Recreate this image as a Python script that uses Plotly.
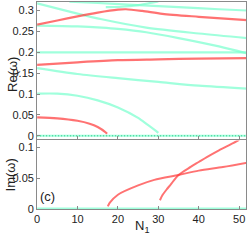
import plotly.graph_objects as go

# ---- data ----
# Re(omega) branches, top panel
cyan_zero_N = [0, 52]
cyan_zero_v = [0, 0]

cyan1_N = [0, 5, 10, 15, 20, 25, 27.4, 29, 30]
cyan1_v = [0.101, 0.101, 0.096, 0.085, 0.068, 0.043, 0.026, 0.015, 0.007]

cyan2_N = [0, 10, 20, 30, 40, 52]
cyan2_v = [0.162, 0.148, 0.138, 0.129, 0.120, 0.113]

cyan3_N = [0, 52]
cyan3_v = [0.2, 0.2]

cyanA_N = [0, 9, 16, 27, 40, 52]
cyanA_v = [0.317, 0.295, 0.279, 0.259, 0.245, 0.234]

cyanB_N = [0, 10, 16, 20, 27, 35, 45, 52]
cyanB_v = [0.264, 0.262, 0.259, 0.256, 0.248, 0.234, 0.214, 0.197]

cyanC_N = [8, 15, 25, 35, 45, 52]
cyanC_v = [0.321, 0.318, 0.313, 0.308, 0.303, 0.300]

cyanD_N = [17, 21, 25, 28, 30]
cyanD_v = [0.308, 0.309, 0.313, 0.318, 0.322]

red1_N = [0, 5, 10, 13, 15, 17, 17.3]
red1_v = [0.044, 0.042, 0.036, 0.029, 0.021, 0.008, 0.005]

red2_N = [0, 10, 20, 30, 40, 52]
red2_v = [0.170, 0.176, 0.181, 0.183, 0.185, 0.186]

red3_N = [0, 5, 10, 15, 20, 22, 26, 31, 40, 52]
red3_v = [0.266, 0.276, 0.286, 0.295, 0.302, 0.303, 0.299, 0.292, 0.285, 0.277]

# Im(omega) branches, bottom panel
im_zero_N = [0, 52]
im_zero_v = [0, 0]

im1_N = [17.5, 18, 20, 25, 29, 35, 40, 46, 52]
im1_v = [0.004, 0.010, 0.023, 0.038, 0.047, 0.055, 0.062, 0.068, 0.075]

im2_N = [30.4, 31, 32, 33, 35, 38, 40, 42, 45, 48, 50]
im2_v = [0.014, 0.022, 0.031, 0.039, 0.055, 0.068, 0.076, 0.084, 0.095, 0.105, 0.112]

x_ticks = [0, 10, 20, 30, 40, 50]
re_ticks = [0, 0.05, 0.1, 0.15, 0.2, 0.25, 0.3]
im_ticks = [0, 0.05, 0.1]

CYAN = "rgba(120,255,205,0.70)"
CYAN_ZERO = "rgba(60,200,140,0.75)"
RED = "rgba(255,60,60,0.72)"

fig = go.Figure()

def add(xs, ys, color, yaxis, width=2.2, dash=None):
    fig.add_trace(go.Scatter(
        x=xs, y=ys, mode="lines",
        line=dict(color=color, width=width, shape="spline", smoothing=0.8, dash=dash),
        xaxis="x" if yaxis == "y" else "x2", yaxis=yaxis,
        showlegend=False, hoverinfo="skip"))

# top panel
add(cyan_zero_N, cyan_zero_v, CYAN, "y", width=2)
add(cyan_zero_N, cyan_zero_v, CYAN_ZERO, "y", width=1.5, dash="1px,2px")
for xs, ys in [(cyan1_N, cyan1_v), (cyan2_N, cyan2_v), (cyan3_N, cyan3_v),
               (cyanA_N, cyanA_v), (cyanB_N, cyanB_v), (cyanC_N, cyanC_v),
               (cyanD_N, cyanD_v)]:
    add(xs, ys, CYAN, "y")
for xs, ys in [(red1_N, red1_v), (red2_N, red2_v), (red3_N, red3_v)]:
    add(xs, ys, RED, "y")

# bottom panel
add(im_zero_N, im_zero_v, CYAN, "y2", width=2.6)
add(im1_N, im1_v, RED, "y2", width=2)
add(im2_N, im2_v, RED, "y2", width=2)

H = 240.0
W = 249.0
xdom = [34.5 / W, 246 / W]
axis_common = dict(
    showline=True, linecolor="#8a8a8a", linewidth=1, mirror=True,
    ticks="inside", ticklen=3, tickcolor="#8a8a8a",
    showgrid=False, zeroline=False,
    tickfont=dict(family="Liberation Sans, Arial, sans-serif", size=11, color="#222"),
)

fig.update_layout(
    width=249, height=240,
    margin=dict(l=0, r=0, t=0, b=0),
    paper_bgcolor="white", plot_bgcolor="white",
    xaxis=dict(domain=xdom, range=[0, 51.7], tickvals=x_ticks, showticklabels=False,
               anchor="y", **axis_common),
    yaxis=dict(domain=[1 - 143 / H, 1 - 2 / H], range=[-0.0086, 0.3205],
               tickvals=re_ticks, ticktext=[str(t) for t in re_ticks],
               anchor="x", **axis_common),
    xaxis2=dict(domain=xdom, range=[0, 51.7], tickvals=x_ticks, anchor="y2",
                **axis_common),
    yaxis2=dict(domain=[1 - 214.5 / H, 1 - 144 / H], range=[-0.0004, 0.111],
                tickvals=im_ticks, ticktext=[str(t) for t in im_ticks],
                anchor="x2", **axis_common),
    font=dict(family="Liberation Sans, Arial, sans-serif", color="#222"),
    annotations=[
        dict(text="Re(ω)", x=9 / W, y=1 - 76 / H, xref="paper", yref="paper",
             xanchor="center", yanchor="middle",
             textangle=-90, showarrow=False, font=dict(size=13)),
        dict(text="Im(ω)", x=8 / W, y=1 - 179 / H, xref="paper", yref="paper",
             xanchor="center", yanchor="middle",
             textangle=-90, showarrow=False, font=dict(size=13)),
        dict(text="N<sub>1</sub>", x=141 / W, y=1 - 232 / H, xref="paper", yref="paper",
             xanchor="center", yanchor="middle",
             showarrow=False, font=dict(size=13)),
        dict(text="(c)", x=45 / W, y=1 - 202 / H, xref="paper", yref="paper",
             xanchor="center", yanchor="middle",
             showarrow=False, font=dict(size=13)),
    ],
)

fig.write_html(
    "out.html",
    config={"displayModeBar": False},
    post_script="document.body.style.margin='0';document.body.style.padding='0';"
                "document.documentElement.style.overflow='hidden';",
)
